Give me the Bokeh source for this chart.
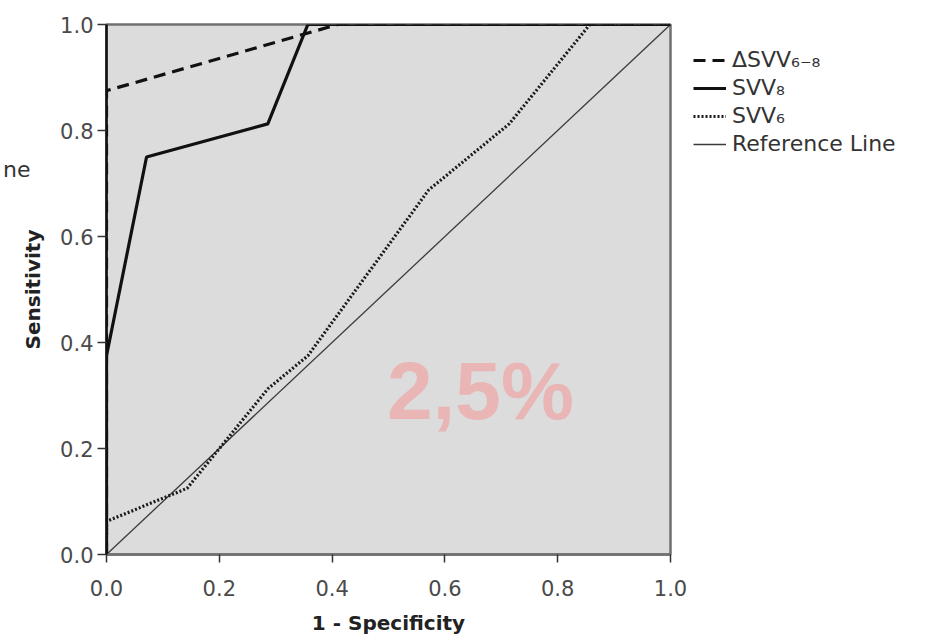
from bokeh.plotting import figure
from bokeh.models import (Legend, LegendItem, Label, FixedTicker,
                          PrintfTickFormatter, LinearAxis)
from bokeh.embed import file_html
from bokeh.resources import INLINE

# ---- data ----
dsvv_x = [0.0, 0.0, 0.41, 1.0]
dsvv_y = [0.0, 0.875, 1.0, 1.0]

svv8_x = [0.0, 0.0, 0.071, 0.286, 0.357, 1.0]
svv8_y = [0.0, 0.375, 0.75, 0.8125, 1.0, 1.0]

svv6_x = [0.0, 0.0, 0.143, 0.286, 0.357, 0.571, 0.714, 0.857, 1.0]
svv6_y = [0.0, 0.0625, 0.125, 0.3125, 0.375, 0.6875, 0.8125, 1.0, 1.0]

ref_x = [0.0, 1.0]
ref_y = [0.0, 1.0]

ticks = [0.0, 0.2, 0.4, 0.6, 0.8, 1.0]
legend_labels = ["ΔSVV₆₋₈", "SVV₈", "SVV₆", "Reference Line"]
watermark = "2,5%"

FONT = "DejaVu Sans"

p = figure(frame_width=564, frame_height=530, x_range=(0, 1), y_range=(0, 1),
           output_backend="svg", toolbar_location=None,
           min_border_left=100, min_border_top=24, min_border_bottom=78,
           min_border_right=0)
p.background_fill_color = "#dcdcdc"
p.border_fill_color = "white"
p.outline_line_color = "#707070"
p.outline_line_width = 2.5
p.grid.visible = False

for ax in (p.xaxis[0], p.yaxis[0]):
    ax.ticker = FixedTicker(ticks=ticks)
    ax.formatter = PrintfTickFormatter(format="%.1f")
    ax.major_tick_in = 0
    ax.minor_tick_line_color = None
    ax.major_label_text_font = FONT
    ax.major_label_text_font_size = "21px"
    ax.major_label_text_color = "#4a4a4a"
    ax.axis_label_text_font = FONT
    ax.axis_label_text_font_size = "20px"
    ax.axis_label_text_font_style = "bold"
    ax.axis_label_text_color = "#222222"
    ax.major_tick_line_color = "#333333"
    ax.major_tick_line_width = 1.5

p.yaxis[0].axis_line_color = "#111111"
p.yaxis[0].axis_line_width = 2.5
p.yaxis[0].major_tick_out = 9
p.yaxis[0].major_label_standoff = 4
p.yaxis[0].axis_label = "Sensitivity"
p.yaxis[0].axis_label_standoff = 12

p.xaxis[0].axis_line_color = "#707070"
p.xaxis[0].axis_line_width = 2.5
p.xaxis[0].major_tick_out = 8
p.xaxis[0].major_label_standoff = 17
p.xaxis[0].axis_label = "1 - Specificity"
p.xaxis[0].axis_label_standoff = 12

wm = Label(x=0.663, y=0.31, text=watermark, text_align="center",
           text_baseline="middle", text_font="Liberation Sans",
           text_font_size="82px", text_font_style="bold",
           text_color="#eab0b0", text_alpha=0.9)
p.add_layout(wm)

r_ref = p.line(ref_x, ref_y, line_color="#3a3a3a", line_width=1.3)
r6 = p.line(svv6_x, svv6_y, line_color="#1a1a1a", line_width=3.2,
            line_dash="2 2")
r8 = p.line(svv8_x, svv8_y, line_color="#111111", line_width=3.2)
rd = p.line(dsvv_x, dsvv_y, line_color="#111111", line_width=3.2,
            line_dash="12 7")

legend = Legend(items=[
    LegendItem(label=legend_labels[0], renderers=[rd]),
    LegendItem(label=legend_labels[1], renderers=[r8]),
    LegendItem(label=legend_labels[2], renderers=[r6]),
    LegendItem(label=legend_labels[3], renderers=[r_ref]),
], location="top_left")
legend.border_line_color = None
legend.background_fill_alpha = 0
legend.label_text_font = FONT
legend.label_text_font_size = "22px"
legend.label_text_color = "#333333"
legend.glyph_width = 33
legend.glyph_height = 20
legend.spacing = 3
legend.label_standoff = 6
legend.label_height = 20
legend.padding = 0
legend.margin = 23
legend.label_text_baseline = "middle"
p.add_layout(legend, "right")

# fragment of the neighbouring panel's legend, drawn as an axis title
left_ax = LinearAxis(ticker=FixedTicker(ticks=[]), axis_line_color=None,
                     major_tick_line_color=None, minor_tick_line_color=None,
                     axis_label="ne" + "\n" * 8, axis_label_standoff=-12,
                     axis_label_text_font=FONT, axis_label_text_font_size="22px",
                     axis_label_text_font_style="normal",
                     axis_label_text_color="#333333",
                     axis_label_orientation="horizontal")
p.add_layout(left_ax, "left")

open("out.html", "w").write(file_html(p, INLINE))
